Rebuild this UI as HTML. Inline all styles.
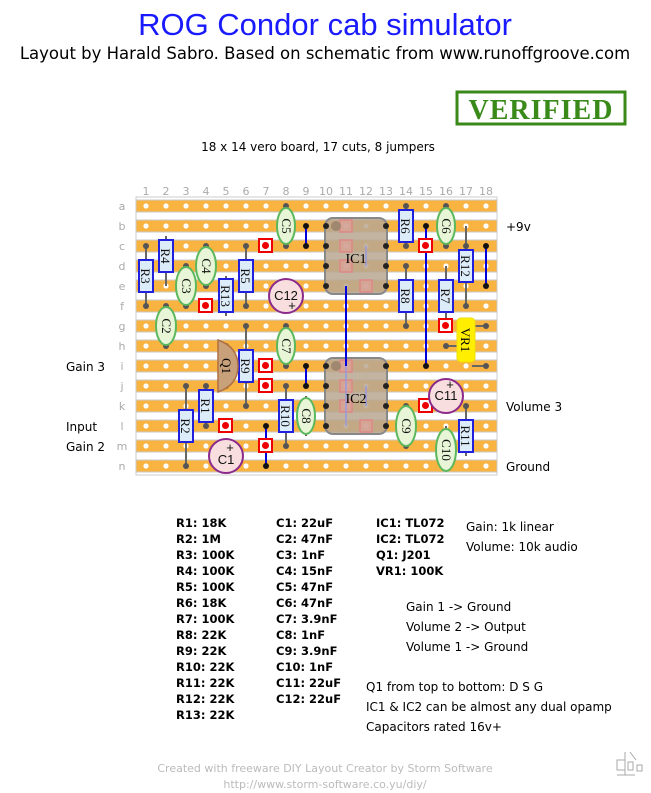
<!DOCTYPE html>
<html><head><meta charset="utf-8"><style>
body{margin:0;background:#fff;width:651px;height:793px;overflow:hidden;font-family:"Liberation Sans",sans-serif}
svg{position:absolute;left:0;top:0}
</style></head><body>
<svg width="651" height="793" viewBox="0 0 651 793" xmlns="http://www.w3.org/2000/svg">
<text x="325" y="35" text-anchor="middle" font-size="31" fill="#1a1aff" font-family="Liberation Sans, sans-serif">ROG Condor cab simulator</text>
<text x="325" y="59" text-anchor="middle" font-size="16.5" fill="#000" font-family="DejaVu Sans, sans-serif">Layout by Harald Sabro. Based on schematic from www.runoffgroove.com</text>
<g>
<rect x="457" y="92" width="168" height="32" fill="none" stroke="#3a8a1a" stroke-width="3"/>
<text x="541" y="119" text-anchor="middle" font-size="28" font-weight="bold" font-family="Liberation Serif, serif" fill="#3a8a1a" letter-spacing="1">VERIFIED</text>
</g>
<text x="318" y="151" text-anchor="middle" font-size="12" fill="#000" font-family="DejaVu Sans, sans-serif">18 x 14 vero board, 17 cuts, 8 jumpers</text>
<g font-size="11" fill="#aaa" text-anchor="middle" font-family="DejaVu Sans, sans-serif">
<text x="146" y="195">1</text><text x="166" y="195">2</text><text x="186" y="195">3</text><text x="206" y="195">4</text><text x="226" y="195">5</text><text x="246" y="195">6</text><text x="266" y="195">7</text><text x="286" y="195">8</text><text x="306" y="195">9</text><text x="326" y="195">10</text><text x="346" y="195">11</text><text x="366" y="195">12</text><text x="386" y="195">13</text><text x="406" y="195">14</text><text x="426" y="195">15</text><text x="446" y="195">16</text><text x="466" y="195">17</text><text x="486" y="195">18</text>
<text x="122" y="210">a</text><text x="122" y="230">b</text><text x="122" y="250">c</text><text x="122" y="270">d</text><text x="122" y="290">e</text><text x="122" y="310">f</text><text x="122" y="330">g</text><text x="122" y="350">h</text><text x="122" y="370">i</text><text x="122" y="390">j</text><text x="122" y="410">k</text><text x="122" y="430">l</text><text x="122" y="450">m</text><text x="122" y="470">n</text>
</g>
<rect x="136" y="197" width="361" height="278" fill="#fff" stroke="#ccc"/>
<g fill="#f8b340" stroke="#c8c8c8" stroke-width="1">
<rect x="136" y="200" width="361" height="12"/><rect x="136" y="220" width="361" height="12"/><rect x="136" y="240" width="361" height="12"/><rect x="136" y="260" width="361" height="12"/><rect x="136" y="280" width="361" height="12"/><rect x="136" y="300" width="361" height="12"/><rect x="136" y="320" width="361" height="12"/><rect x="136" y="340" width="361" height="12"/><rect x="136" y="360" width="361" height="12"/><rect x="136" y="380" width="361" height="12"/><rect x="136" y="400" width="361" height="12"/><rect x="136" y="420" width="361" height="12"/><rect x="136" y="440" width="361" height="12"/><rect x="136" y="460" width="361" height="12"/>
</g>
<defs><pattern id="hp" x="136" y="196" width="20" height="20" patternUnits="userSpaceOnUse"><circle cx="10" cy="10" r="2.6" fill="#fff"/></pattern></defs>
<rect x="136" y="196" width="360" height="280" fill="url(#hp)"/>

<g>
<rect x="325" y="218" width="62" height="76" rx="8" fill="#b8a690" fill-opacity="0.85" stroke="#888" stroke-width="2"/>
<rect x="325" y="358" width="62" height="76" rx="8" fill="#b8a690" fill-opacity="0.85" stroke="#888" stroke-width="2"/>
<g fill="#e8a0a0" stroke="#d88" stroke-width="1.5">
<rect x="340" y="220" width="12" height="12" fill-opacity=".5"/><rect x="340" y="240" width="12" height="12" fill-opacity=".5"/><rect x="340" y="260" width="12" height="12" fill-opacity=".5"/><rect x="360" y="280" width="12" height="12" fill-opacity=".5"/>
<rect x="340" y="360" width="12" height="12" fill-opacity=".5"/><rect x="340" y="380" width="12" height="12" fill-opacity=".5"/><rect x="340" y="400" width="12" height="12" fill-opacity=".5"/><rect x="360" y="420" width="12" height="12" fill-opacity=".5"/>
</g>
<circle cx="336" cy="226" r="5" fill="#a08870"/><circle cx="336" cy="366" r="5" fill="#a08870"/>
<g stroke="#9999dd" stroke-width="1.5"><line x1="366" y1="246" x2="366" y2="266"/><line x1="366" y1="386" x2="366" y2="406"/><line x1="346" y1="366" x2="346" y2="426"/></g>
<text x="356" y="263" text-anchor="middle" font-size="14" font-family="Liberation Serif, serif">IC1</text>
<text x="356" y="403" text-anchor="middle" font-size="14" font-family="Liberation Serif, serif">IC2</text>
<g fill="#222"><circle cx="326" cy="226" r="3"/><circle cx="326" cy="246" r="3"/><circle cx="326" cy="266" r="3"/><circle cx="326" cy="286" r="3"/><circle cx="386" cy="226" r="3"/><circle cx="386" cy="246" r="3"/><circle cx="386" cy="266" r="3"/><circle cx="386" cy="286" r="3"/>
<circle cx="326" cy="366" r="3"/><circle cx="326" cy="386" r="3"/><circle cx="326" cy="406" r="3"/><circle cx="326" cy="426" r="3"/><circle cx="386" cy="366" r="3"/><circle cx="386" cy="386" r="3"/><circle cx="386" cy="406" r="3"/><circle cx="386" cy="426" r="3"/></g>
</g>

<g stroke="#0000dd" stroke-width="2">
<line x1="306" y1="226" x2="306" y2="246"/><line x1="486" y1="246" x2="486" y2="286"/><line x1="426" y1="226" x2="426" y2="366"/><line x1="346" y1="286" x2="346" y2="366"/><line x1="306" y1="366" x2="306" y2="386"/><line x1="266" y1="426" x2="266" y2="466"/>
</g>
<g fill="#111"><circle cx="306" cy="226" r="3"/><circle cx="306" cy="246" r="3"/><circle cx="486" cy="246" r="3"/><circle cx="486" cy="286" r="3"/><circle cx="426" cy="226" r="3"/><circle cx="426" cy="366" r="3"/><circle cx="306" cy="366" r="3"/><circle cx="306" cy="386" r="3"/><circle cx="266" cy="426" r="3"/><circle cx="266" cy="466" r="3"/></g>

<g stroke="#666" stroke-width="2">
<line x1="146" y1="246" x2="146" y2="306"/><line x1="166" y1="236" x2="166" y2="286"/><line x1="186" y1="266" x2="186" y2="306"/><line x1="206" y1="246" x2="206" y2="286"/><line x1="226" y1="276" x2="226" y2="316"/><line x1="246" y1="246" x2="246" y2="306"/><line x1="286" y1="206" x2="286" y2="246"/>
<line x1="406" y1="206" x2="406" y2="246"/><line x1="446" y1="206" x2="446" y2="246"/><line x1="466" y1="226" x2="466" y2="306"/><line x1="406" y1="266" x2="406" y2="326"/><line x1="446" y1="266" x2="446" y2="326"/><line x1="166" y1="306" x2="166" y2="346"/>
<line x1="246" y1="326" x2="246" y2="406"/><line x1="286" y1="326" x2="286" y2="366"/><line x1="206" y1="386" x2="206" y2="426"/><line x1="186" y1="386" x2="186" y2="466"/><line x1="286" y1="386" x2="286" y2="446"/><line x1="306" y1="396" x2="306" y2="436"/>
<line x1="406" y1="406" x2="406" y2="446"/><line x1="446" y1="426" x2="446" y2="466"/><line x1="466" y1="406" x2="466" y2="456"/>
<line x1="446" y1="346" x2="462" y2="346"/><line x1="472" y1="326" x2="486" y2="326"/><line x1="472" y1="366" x2="486" y2="366"/>
<line x1="226" y1="446" x2="226" y2="470"/>
</g>
<g fill="#555"><circle cx="146" cy="246" r="3"/><circle cx="146" cy="306" r="3"/><circle cx="186" cy="266" r="3"/><circle cx="186" cy="306" r="3"/><circle cx="206" cy="246" r="3"/><circle cx="206" cy="286" r="3"/><circle cx="246" cy="246" r="3"/><circle cx="246" cy="306" r="3"/><circle cx="286" cy="206" r="3"/><circle cx="286" cy="246" r="3"/>
<circle cx="406" cy="206" r="3"/><circle cx="406" cy="246" r="3"/><circle cx="446" cy="206" r="3"/><circle cx="446" cy="246" r="3"/><circle cx="466" cy="246" r="3"/><circle cx="466" cy="306" r="3"/><circle cx="406" cy="266" r="3"/><circle cx="406" cy="326" r="3"/><circle cx="166" cy="306" r="3"/><circle cx="166" cy="346" r="3"/>
<circle cx="246" cy="326" r="3"/><circle cx="246" cy="406" r="3"/><circle cx="286" cy="326" r="3"/><circle cx="286" cy="366" r="3"/><circle cx="206" cy="386" r="3"/><circle cx="206" cy="426" r="3"/><circle cx="186" cy="386" r="3"/><circle cx="186" cy="466" r="3"/><circle cx="286" cy="386" r="3"/><circle cx="286" cy="446" r="3"/>
<circle cx="406" cy="406" r="3"/><circle cx="406" cy="446" r="3"/><circle cx="446" cy="446" r="3"/><circle cx="466" cy="406" r="3"/><circle cx="446" cy="346" r="3"/><circle cx="486" cy="326" r="3"/><circle cx="486" cy="366" r="3"/><circle cx="226" cy="386" r="3"/><circle cx="226" cy="346" r="3"/></g>

<g fill="#fff" stroke="#e00" stroke-width="2">
<rect x="259" y="239" width="13" height="13"/><rect x="199" y="299" width="13" height="13"/><rect x="419" y="239" width="13" height="13"/><rect x="439" y="319" width="13" height="13"/><rect x="259" y="359" width="13" height="13"/><rect x="259" y="379" width="13" height="13"/><rect x="219" y="419" width="13" height="13"/><rect x="259" y="439" width="13" height="13"/><rect x="419" y="399" width="13" height="13"/>
</g>
<g fill="#e00"><circle cx="265.5" cy="245.5" r="3.5"/><circle cx="205.5" cy="305.5" r="3.5"/><circle cx="425.5" cy="245.5" r="3.5"/><circle cx="445.5" cy="325.5" r="3.5"/><circle cx="265.5" cy="365.5" r="3.5"/><circle cx="265.5" cy="385.5" r="3.5"/><circle cx="225.5" cy="425.5" r="3.5"/><circle cx="265.5" cy="445.5" r="3.5"/><circle cx="425.5" cy="405.5" r="3.5"/></g>

<g fill="#dcecf8" stroke="#2020dd" stroke-width="2">
<rect x="139" y="260" width="14" height="32"/><rect x="159" y="240" width="14" height="32"/><rect x="219" y="279" width="14" height="33"/><rect x="239" y="260" width="14" height="32"/>
<rect x="399" y="210" width="14" height="32"/><rect x="459" y="250" width="14" height="32"/><rect x="399" y="280" width="14" height="32"/><rect x="439" y="280" width="14" height="32"/>
<rect x="239" y="350" width="14" height="32"/><rect x="199" y="390" width="14" height="32"/><rect x="179" y="410" width="14" height="32"/><rect x="279" y="400" width="14" height="32"/><rect x="459" y="420" width="14" height="32"/>
</g>
<g font-size="13" font-family="Liberation Serif, serif" fill="#111" text-anchor="middle">
<text transform="translate(141,276) rotate(90)">R3</text><text transform="translate(161,256) rotate(90)">R4</text><text transform="translate(221,296) rotate(90)">R13</text><text transform="translate(241,276) rotate(90)">R5</text>
<text transform="translate(401,226) rotate(90)">R6</text><text transform="translate(461,266) rotate(90)">R12</text><text transform="translate(401,296) rotate(90)">R8</text><text transform="translate(441,296) rotate(90)">R7</text>
<text transform="translate(241,366) rotate(90)">R9</text><text transform="translate(201,406) rotate(90)">R1</text><text transform="translate(181,426) rotate(90)">R2</text><text transform="translate(281,416) rotate(90)">R10</text><text transform="translate(461,436) rotate(90)">R11</text>
</g>

<g fill="#e8f5d6" stroke="#5cb85c" stroke-width="2">
<ellipse cx="286" cy="226" rx="9" ry="18"/><ellipse cx="446" cy="226" rx="9" ry="18"/><ellipse cx="206" cy="266" rx="10" ry="19"/><ellipse cx="186" cy="286" rx="10" ry="19"/><ellipse cx="166" cy="326" rx="10" ry="19"/>
<ellipse cx="286" cy="346" rx="9" ry="18"/><ellipse cx="306" cy="416" rx="9" ry="18"/><ellipse cx="406" cy="426" rx="10" ry="20"/><ellipse cx="446" cy="450" rx="10" ry="21"/>
</g>
<g font-size="13" font-family="Liberation Serif, serif" fill="#111" text-anchor="middle">
<text transform="translate(282,226) rotate(90)">C5</text><text transform="translate(442,226) rotate(90)">C6</text><text transform="translate(202,266) rotate(90)">C4</text><text transform="translate(182,286) rotate(90)">C3</text><text transform="translate(162,326) rotate(90)">C2</text>
<text transform="translate(282,346) rotate(90)">C7</text><text transform="translate(302,416) rotate(90)">C8</text><text transform="translate(402,426) rotate(90)">C9</text><text transform="translate(442,450) rotate(90)">C10</text>
</g>

<g stroke="#8b2a8b" stroke-width="2" fill="#f8dede">
<circle cx="286" cy="296" r="17"/><circle cx="226" cy="456" r="17"/><circle cx="446" cy="396" r="17"/>
</g>
<g font-size="13" font-family="Liberation Sans, sans-serif" fill="#111" text-anchor="middle">
<text x="286" y="300">C12</text><text x="292" y="310">+</text>
<text x="226" y="464">C1</text><text x="230" y="452">+</text>
<text x="446" y="400">C11</text><text x="450" y="389">+</text>
</g>

<path d="M218,340 L218,392 Q238,385 238,366 Q238,347 218,340 Z" fill="#c8a07a" stroke="#b07040" stroke-width="1.5"/>
<text transform="translate(222,366) rotate(90)" font-size="13" font-family="Liberation Serif, serif" text-anchor="middle">Q1</text>

<rect x="457" y="318" width="18" height="44" rx="4" fill="#ffee00" stroke="#eedd00"/>
<text transform="translate(461,340) rotate(90)" font-size="13" font-family="Liberation Serif, serif" text-anchor="middle">VR1</text>

<g font-size="12" font-family="DejaVu Sans, sans-serif" fill="#000">
<text x="506" y="231">+9v</text><text x="506" y="411">Volume 3</text><text x="506" y="471">Ground</text>
<text x="66" y="371">Gain 3</text><text x="66" y="431">Input</text><text x="66" y="451">Gain 2</text>
</g>

<g font-size="11.5" font-weight="bold" font-family="DejaVu Sans, sans-serif" fill="#000">
<text x="176" y="527">R1: 18K</text><text x="176" y="543">R2: 1M</text><text x="176" y="559">R3: 100K</text><text x="176" y="575">R4: 100K</text><text x="176" y="591">R5: 100K</text><text x="176" y="607">R6: 18K</text><text x="176" y="623">R7: 100K</text><text x="176" y="639">R8: 22K</text><text x="176" y="655">R9: 22K</text><text x="176" y="671">R10: 22K</text><text x="176" y="687">R11: 22K</text><text x="176" y="703">R12: 22K</text><text x="176" y="719">R13: 22K</text>
<text x="276" y="527">C1: 22uF</text><text x="276" y="543">C2: 47nF</text><text x="276" y="559">C3: 1nF</text><text x="276" y="575">C4: 15nF</text><text x="276" y="591">C5: 47nF</text><text x="276" y="607">C6: 47nF</text><text x="276" y="623">C7: 3.9nF</text><text x="276" y="639">C8: 1nF</text><text x="276" y="655">C9: 3.9nF</text><text x="276" y="671">C10: 1nF</text><text x="276" y="687">C11: 22uF</text><text x="276" y="703">C12: 22uF</text>
<text x="376" y="527">IC1: TL072</text><text x="376" y="543">IC2: TL072</text><text x="376" y="559">Q1: J201</text><text x="376" y="575">VR1: 100K</text>
</g>
<g font-size="12" font-family="DejaVu Sans, sans-serif" fill="#000">
<text x="466" y="531">Gain: 1k linear</text><text x="466" y="551">Volume: 10k audio</text>
<text x="406" y="611">Gain 1 -&gt; Ground</text><text x="406" y="631">Volume 2 -&gt; Output</text><text x="406" y="651">Volume 1 -&gt; Ground</text>
<text x="366" y="691">Q1 from top to bottom: D S G</text><text x="366" y="711">IC1 &amp; IC2 can be almost any dual opamp</text><text x="366" y="731">Capacitors rated 16v+</text>
</g>
<g font-size="11" font-family="DejaVu Sans, sans-serif" fill="#bbb" text-anchor="middle">
<text x="325" y="772">Created with freeware DIY Layout Creator by Storm Software</text><text x="325" y="788">http://www.storm-software.co.yu/diy/</text>
</g>
<g stroke="#aaa" fill="none" stroke-width="1"><rect x="617" y="760" width="8" height="10"/><line x1="625" y1="752" x2="625" y2="775"/><line x1="630" y1="752" x2="636" y2="760"/><rect x="628" y="762" width="5" height="8"/><rect x="637" y="765" width="5" height="6"/><line x1="617" y1="775" x2="635" y2="775"/></g>
</svg>
</body></html>
